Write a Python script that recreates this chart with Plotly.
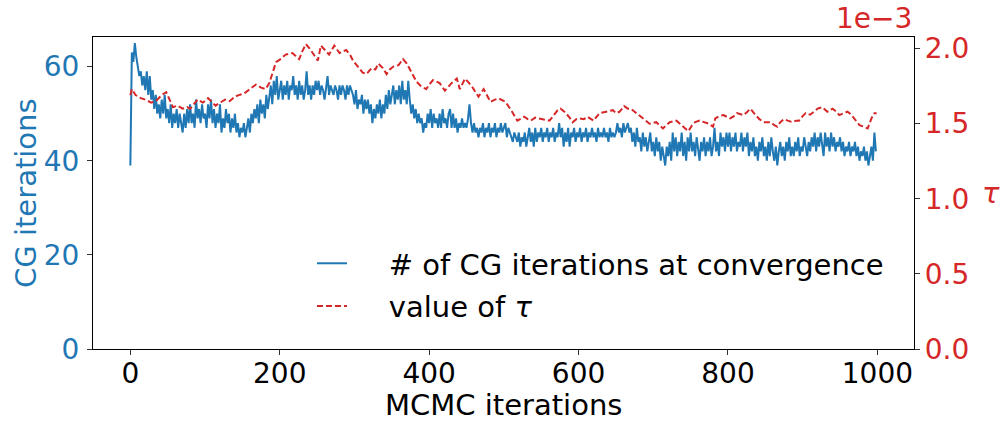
import plotly.graph_objects as go

# CG iterations at convergence, sampled every 2nd MCMC iteration
cg_iter = list(range(0, 1000, 2))
cg_count = [
    39, 63, 61, 65, 62, 60, 58, 59, 56, 58, 55, 59, 54, 58, 53, 55, 51, 54, 50, 52, 49, 53, 50, 54, 49,
    51, 48, 52, 47, 50, 48, 51, 47, 50, 48, 46, 50, 47, 51, 48, 52, 48, 50, 47, 53, 49, 51, 48, 52, 49,
    50, 47, 52, 49, 53, 48, 51, 47, 50, 48, 52, 46, 49, 47, 51, 48, 50, 46, 49, 47, 50, 46, 48, 45, 47,
    46, 48, 45, 47, 49, 46, 50, 48, 51, 49, 52, 48, 53, 50, 52, 49, 54, 51, 53, 56, 52, 57, 54, 58, 53,
    55, 57, 53, 56, 54, 57, 53, 56, 55, 58, 54, 56, 53, 57, 54, 56, 53, 55, 59, 54, 56, 53, 56, 54, 57,
    55, 57, 54, 56, 55, 53, 56, 58, 54, 56, 55, 54, 56, 55, 53, 56, 54, 56, 55, 53, 56, 54, 56, 55, 54,
    52, 55, 51, 53, 52, 54, 50, 53, 51, 53, 50, 52, 48, 51, 49, 52, 50, 53, 49, 52, 50, 54, 51, 55, 52,
    54, 56, 52, 55, 53, 56, 52, 57, 53, 55, 52, 57, 53, 50, 52, 49, 51, 48, 50, 48, 49, 46, 48, 47, 50,
    48, 51, 47, 50, 48, 49, 47, 50, 47, 51, 48, 49, 47, 50, 51, 47, 50, 47, 49, 46, 48, 47, 49, 47, 48,
    47, 49, 52, 48, 46, 48, 46, 47, 45, 47, 46, 48, 45, 47, 46, 48, 45, 47, 46, 48, 45, 47, 46, 48, 46,
    47, 48, 45, 47, 46, 45, 44, 46, 45, 44, 46, 43, 45, 44, 46, 43, 45, 47, 44, 46, 43, 47, 44, 46, 45,
    47, 44, 46, 45, 47, 44, 46, 45, 47, 44, 46, 45, 48, 45, 47, 43, 46, 44, 47, 43, 46, 45, 47, 44, 46,
    45, 47, 44, 46, 45, 47, 44, 46, 45, 47, 45, 46, 44, 47, 45, 46, 45, 47, 45, 46, 44, 47, 45, 46, 45,
    46, 48, 46, 47, 45, 48, 46, 47, 48, 46, 47, 44, 46, 43, 47, 44, 45, 42, 46, 43, 45, 42, 44, 46, 42,
    44, 41, 45, 42, 44, 40, 43, 41, 39, 43, 41, 44, 40, 46, 42, 45, 41, 44, 42, 46, 41, 44, 40, 45, 42,
    46, 42, 44, 41, 45, 43, 40, 44, 42, 45, 41, 44, 42, 45, 41, 43, 47, 42, 44, 41, 46, 43, 45, 42, 46,
    43, 46, 42, 45, 43, 46, 42, 44, 43, 46, 42, 45, 43, 46, 41, 44, 42, 45, 41, 43, 40, 44, 42, 45, 41,
    43, 40, 44, 41, 45, 42, 40, 43, 39, 42, 44, 41, 43, 40, 44, 42, 45, 41, 43, 41, 44, 42, 45, 41, 43,
    42, 45, 43, 41, 44, 42, 45, 43, 46, 42, 45, 43, 46, 44, 41, 46, 43, 45, 42, 46, 43, 45, 42, 44, 43,
    45, 42, 44, 41, 43, 42, 44, 41, 43, 42, 44, 41, 43, 40, 42, 41, 43, 40, 42, 39, 41, 43, 40, 46, 42,
]

# value of tau (in units of 1e-3)
tau_iter = [
    0, 2, 7, 14, 20, 28, 34, 42, 48, 53, 57, 63, 70, 76, 80, 85, 90, 97, 104, 110,
    114, 120, 127, 133, 140, 145, 152, 160, 168, 175, 181, 186, 190, 195, 201, 208, 217, 222, 226, 230,
    235, 240, 244, 251, 255, 260, 266, 273, 280, 289, 294, 298, 303, 307, 311, 316, 323, 328, 332, 338,
    343, 347, 352, 359, 365, 370, 374, 379, 383, 389, 396, 400, 405, 410, 414, 421, 426, 430, 437, 441,
    448, 452, 457, 462, 466, 473, 478, 482, 488, 493, 502, 507, 511, 518, 527, 532, 536, 542, 548, 555,
    561, 566, 572, 576, 583, 588, 592, 597, 601, 607, 612, 620, 628, 637, 646, 650, 655, 661, 666, 670,
    677, 686, 690, 695, 704, 708, 713, 722, 731, 738, 743, 747, 752, 756, 762, 768, 774, 780, 783, 788,
    794, 803, 808, 812, 817, 821, 826, 830, 837, 842, 848, 857, 862, 866, 870, 875, 880, 886, 891, 895,
    900, 904, 910, 915, 920, 926, 933, 940, 945, 949, 955, 960, 965, 969, 976, 982, 987, 992, 996, 999,
]
tau_x1e3 = [
    1.69, 1.73, 1.69, 1.67, 1.66, 1.64, 1.65, 1.69, 1.71, 1.66, 1.61, 1.62, 1.60, 1.61, 1.60, 1.63, 1.66, 1.64, 1.67, 1.64,
    1.62, 1.64, 1.66, 1.65, 1.68, 1.69, 1.70, 1.73, 1.76, 1.74, 1.73, 1.77, 1.83, 1.91, 1.93, 1.96, 1.97, 1.95, 1.93, 1.98,
    2.03, 2.00, 1.97, 1.92, 2.02, 1.99, 1.96, 2.02, 1.97, 1.99, 1.96, 1.92, 1.89, 1.86, 1.84, 1.83, 1.87, 1.86, 1.90, 1.87,
    1.83, 1.86, 1.88, 1.89, 1.93, 1.90, 1.86, 1.82, 1.78, 1.75, 1.73, 1.76, 1.79, 1.78, 1.77, 1.72, 1.75, 1.77, 1.80, 1.73,
    1.80, 1.78, 1.75, 1.71, 1.68, 1.73, 1.68, 1.645, 1.66, 1.668, 1.646, 1.61, 1.58, 1.52, 1.546, 1.53, 1.52, 1.54, 1.535, 1.53,
    1.52, 1.55, 1.59, 1.60, 1.57, 1.54, 1.51, 1.53, 1.535, 1.53, 1.546, 1.52, 1.57, 1.58, 1.59, 1.57, 1.58, 1.617, 1.60, 1.60,
    1.57, 1.535, 1.52, 1.50, 1.51, 1.49, 1.468, 1.51, 1.52, 1.49, 1.47, 1.45, 1.49, 1.51, 1.52, 1.51, 1.50, 1.48, 1.535, 1.55,
    1.557, 1.535, 1.55, 1.57, 1.56, 1.557, 1.58, 1.60, 1.557, 1.53, 1.51, 1.51, 1.49, 1.48, 1.51, 1.53, 1.52, 1.51, 1.52, 1.52,
    1.55, 1.57, 1.56, 1.58, 1.60, 1.61, 1.58, 1.60, 1.58, 1.557, 1.57, 1.58, 1.56, 1.535, 1.49, 1.48, 1.468, 1.535, 1.57, 1.57,
]

BLUE = "#1f77b4"
RED = "#d62728"
FONT = "DejaVu Sans"

fig = go.Figure()

fig.add_trace(go.Scatter(
    x=cg_iter,
    y=cg_count,
    mode="lines",
    line=dict(color=BLUE, width=2),
    name="    # of CG iterations at convergence",
    legendgroup="cg",
))

fig.add_trace(go.Scatter(
    x=tau_iter,
    y=tau_x1e3,
    mode="lines",
    line=dict(color=RED, width=2, dash="6px,3px"),
    name="    value of <i>τ</i>",
    yaxis="y2",
    legendgroup="tau",
))

axis_common = dict(
    showgrid=False,
    zeroline=False,
    showline=True,
    linecolor="black",
    linewidth=1.2,
    ticks="outside",
    ticklen=5,
    tickwidth=1.2,
    tickcolor="#333",
    automargin=False,
)

fig.update_layout(
    width=1006,
    height=421,
    margin=dict(l=93, r=92, t=37, b=72),
    plot_bgcolor="white",
    paper_bgcolor="white",
    font=dict(family=FONT, size=28, color="black"),
    xaxis=dict(
        **axis_common,
        mirror=True,
        range=[-50, 1049],
        tickvals=[0, 200, 400, 600, 800, 1000],
        tickfont=dict(size=28),
        ticklabelstandoff=-6,
    ),
    yaxis=dict(
        **axis_common,
        range=[0, 66.3],
        tickvals=[0, 20, 40, 60],
        tickfont=dict(size=28, color=BLUE),
        ticklabelstandoff=2,
    ),
    yaxis2=dict(
        **axis_common,
        overlaying="y",
        side="right",
        range=[0, 2.077],
        tickvals=[0, 0.5, 1.0, 1.5, 2.0],
        tickformat=".1f",
        tickfont=dict(size=28, color=RED),
        ticklabelstandoff=-1,
    ),
    legend=dict(
        x=0.2667,
        y=0.356,
        xanchor="left",
        yanchor="top",
        bgcolor="rgba(0,0,0,0)",
        font=dict(size=29),
        traceorder="grouped",
        tracegroupgap=2,
    ),
    showlegend=True,
)

# axis titles, offset text and right axis label
fig.add_annotation(
    text="MCMC iterations", xref="paper", yref="paper", x=0.5, y=-0.178,
    xanchor="center", yanchor="middle", showarrow=False, borderpad=0,
    font=dict(size=29),
)
fig.add_annotation(
    text="CG iterations", xref="paper", yref="paper", x=-0.0816, y=0.5,
    xanchor="center", yanchor="middle", showarrow=False, textangle=-90,
    font=dict(size=29, color=BLUE),
)
fig.add_annotation(
    text="1e−3", xref="paper", yref="paper", x=1.0, y=1.0,
    xanchor="right", yanchor="bottom", showarrow=False,
    font=dict(color=RED, size=28),
)
fig.add_annotation(
    text="<i>τ</i>", xref="paper", yref="paper", x=1.094, y=0.5,
    xanchor="center", yanchor="middle", showarrow=False,
    font=dict(color=RED, size=29),
)

# drop the default 8px page margin so the figure fills the window exactly
fig.write_html(
    "out.html",
    config={"displayModeBar": False},
    post_script="document.body.style.margin = '0';",
)
